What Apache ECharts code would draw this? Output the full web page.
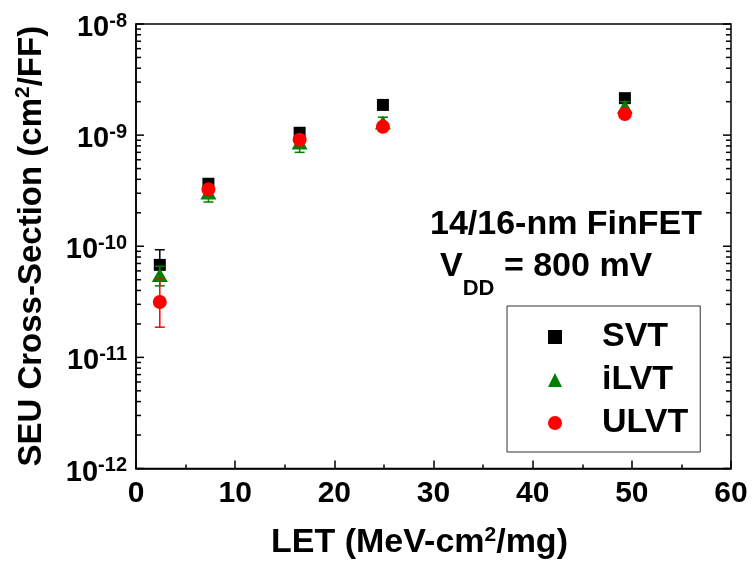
<!DOCTYPE html>
<html>
<head>
<meta charset="utf-8">
<script src="https://cdn.jsdelivr.net/npm/echarts@6/dist/echarts.min.js"></script>
<style>
  html, body { margin: 0; padding: 0; background: #fff; }
  #chart { width: 752px; height: 565px; }
</style>
</head>
<body>
<div id="chart"></div>
<script>
// LET values (MeV-cm2/mg)
const letValues = [2.4, 7.3, 16.5, 24.9, 49.3];

// SEU cross-section per flip-flop (cm2/FF)
const svt  = [6.8e-11, 3.65e-10, 1.05e-9, 1.87e-9, 2.15e-9];
const ilvt = [5.5e-11, 3.05e-10, 8.6e-10, 1.30e-9, 1.80e-9];
const ulvt = [3.15e-11, 3.25e-10, 9.1e-10, 1.19e-9, 1.55e-9];

// error bar bounds [low, high]
const svtErr  = [[5.2e-11, 9.3e-11], [3.4e-10, 3.9e-10], [1.0e-9, 1.1e-9], [1.8e-9, 1.95e-9], [2.05e-9, 2.25e-9]];
const ilvtErr = [[4.4e-11, 6.6e-11], [2.5e-10, 3.5e-10], [7.0e-10, 1.0e-9], [1.15e-9, 1.45e-9], [1.6e-9, 2.0e-9]];
const ulvtErr = [[1.87e-11, 5.05e-11], [3.0e-10, 3.5e-10], [8.6e-10, 9.6e-10], [1.13e-9, 1.25e-9], [1.47e-9, 1.63e-9]];

// series names and legend entries
const seriesNames = ['SVT', 'iLVT', 'ULVT'];

// y axis range (log) and x axis range
const yMin = 1e-12, yMax = 1e-8;
const xMin = 0, xMax = 60, xStep = 10;

const FONT = '"Liberation Sans", Arial, sans-serif';

// log-axis tick values: decades and 2..9 within each decade
const decadeTicks = [];
const minorTicks = [];
for (let e = -12; e <= -8; e++) {
  decadeTicks.push(Math.pow(10, e));
  if (e < -8) for (let m = 2; m <= 9; m++) minorTicks.push(m * Math.pow(10, e));
}

const pair = (xs, ys) => xs.map((x, i) => [x, ys[i]]);
const errData = (xs, errs) => xs.map((x, i) => [x, errs[i][0], errs[i][1]]);

function errorBarSeries(id, color, errs, z) {
  return {
    id: id,
    type: 'custom',
    z: z,
    silent: true,
    data: errData(letValues, errs),
    renderItem: function (params, api) {
      const lo = api.coord([api.value(0), api.value(1)]);
      const hi = api.coord([api.value(0), api.value(2)]);
      const cap = 5;
      const style = { stroke: color, lineWidth: 1.5 };
      return {
        type: 'group',
        children: [
          { type: 'line', shape: { x1: lo[0], y1: lo[1], x2: hi[0], y2: hi[1] }, style: style },
          { type: 'line', shape: { x1: lo[0] - cap, y1: lo[1], x2: lo[0] + cap, y2: lo[1] }, style: style },
          { type: 'line', shape: { x1: hi[0] - cap, y1: hi[1], x2: hi[0] + cap, y2: hi[1] }, style: style }
        ]
      };
    }
  };
}

// inward ticks on left and right frame edges for the log axis
function logTickSeries(values, len) {
  return {
    type: 'custom',
    silent: true,
    z: 1,
    clip: false,
    data: values.map(v => [xMin, v]),
    renderItem: function (params, api) {
      const v = api.value(1);
      const l = api.coord([xMin, v]);
      const r = api.coord([xMax, v]);
      const style = { stroke: '#000', lineWidth: 1.5 };
      return {
        type: 'group',
        children: [
          { type: 'line', shape: { x1: l[0], y1: l[1], x2: l[0] + len, y2: l[1] }, style: style },
          { type: 'line', shape: { x1: r[0] - len, y1: r[1], x2: r[0], y2: r[1] }, style: style }
        ]
      };
    }
  };
}

const chart = echarts.init(document.getElementById('chart'), null, { renderer: 'canvas' });

const option = {
  backgroundColor: '#fff',
  animation: false,
  textStyle: { fontFamily: FONT },
  grid: {
    left: 136, top: 24, right: 21, bottom: 90,
    show: true, borderColor: '#000', borderWidth: 1.5, backgroundColor: 'transparent'
  },
  xAxis: {
    type: 'value',
    min: xMin, max: xMax, interval: xStep,
    axisLine: { show: true, lineStyle: { color: '#000', width: 1.5 } },
    axisTick: { show: true, inside: true, length: 8, lineStyle: { color: '#000', width: 1.5 } },
    minorTick: { show: true, splitNumber: 2, length: 4, lineStyle: { color: '#000', width: 1.5 } },
    splitLine: { show: false },
    axisLabel: { color: '#000', fontSize: 30, fontWeight: 'bold', fontFamily: FONT, margin: 10 },
    name: '{t|LET (MeV-cm}{sup|2}{t|/mg)}',
    nameLocation: 'middle',
    nameGap: 56,
    nameTextStyle: {
      padding: [0, 28, 0, 0],
      rich: {
        t: { fontSize: 34, fontWeight: 'bold', fontFamily: FONT, color: '#000' },
        sup: { fontSize: 21, fontWeight: 'bold', fontFamily: FONT, color: '#000', verticalAlign: 'top', padding: [0, 0, 16, 0] }
      }
    }
  },
  yAxis: {
    type: 'log',
    logBase: 10,
    min: yMin, max: yMax,
    interval: 1,
    axisLine: { show: true, lineStyle: { color: '#000', width: 1.5 } },
    axisTick: { show: false },
    splitLine: { show: false },
    axisLabel: {
      margin: 9,
      padding: [8, 0, 0, 0],
      formatter: function (v) {
        return '{b|10}{s|' + Math.round(Math.log10(v)) + '}';
      },
      rich: {
        b: { fontSize: 29, fontWeight: 'bold', fontFamily: FONT, color: '#000' },
        s: { fontSize: 20, fontWeight: 'bold', fontFamily: FONT, color: '#000', verticalAlign: 'top', padding: [0, 0, 14, 0] }
      }
    },
    name: '{t|SEU Cross-Section (cm}{sup|2}{t|/FF)}',
    nameLocation: 'middle',
    nameGap: 86,
    nameTextStyle: {
      rich: {
        t: { fontSize: 33, fontWeight: 'bold', fontFamily: FONT, color: '#000' },
        sup: { fontSize: 21, fontWeight: 'bold', fontFamily: FONT, color: '#000', verticalAlign: 'top', padding: [0, 0, 16, 0] }
      }
    }
  },
  legend: {
    orient: 'vertical',
    left: 507, top: 306,
    padding: [14, 12, 12, 41],
    itemGap: 9,
    itemWidth: 14, itemHeight: 14,
    borderColor: '#333', borderWidth: 1,
    backgroundColor: '#fff',
    data: [
      { name: seriesNames[0], icon: 'rect' },
      { name: seriesNames[1], icon: 'triangle' },
      { name: seriesNames[2], icon: 'circle' }
    ],
    textStyle: {
      color: '#000', fontSize: 34, fontWeight: 'bold', fontFamily: FONT,
      lineHeight: 34, padding: [0, 0, 0, 35]
    }
  },
  graphic: [
    {
      type: 'text', left: 430, top: 208, z: 10,
      style: { text: '14/16-nm FinFET', fontSize: 34, fontWeight: 'bold', fontFamily: FONT, fill: '#000' }
    },
    {
      type: 'text', left: 440, top: 250, z: 10,
      style: {
        text: '{v|V}{d|DD}{v| = 800 mV}',
        rich: {
          v: { fontSize: 34, fontWeight: 'bold', fontFamily: FONT, fill: '#000', verticalAlign: 'top' },
          d: { fontSize: 22, fontWeight: 'bold', fontFamily: FONT, fill: '#000', verticalAlign: 'top', padding: [28, 0, 0, 0] }
        }
      }
    }
  ],
  series: [
    logTickSeries(decadeTicks, 8),
    logTickSeries(minorTicks, 5),
    errorBarSeries('errSVT', '#000', svtErr, 3),
    errorBarSeries('errILVT', '#008000', ilvtErr, 5),
    errorBarSeries('errULVT', '#ff0000', ulvtErr, 7),
    {
      name: seriesNames[0], type: 'scatter', z: 4,
      symbol: 'rect', symbolSize: 12,
      itemStyle: { color: '#000', opacity: 1 },
      data: pair(letValues, svt)
    },
    {
      name: seriesNames[1], type: 'scatter', z: 6,
      symbol: 'triangle', symbolSize: [16, 14],
      itemStyle: { color: '#008000', opacity: 1 },
      data: pair(letValues, ilvt)
    },
    {
      name: seriesNames[2], type: 'scatter', z: 8,
      symbol: 'circle', symbolSize: 14,
      itemStyle: { color: '#ff0000', opacity: 1 },
      data: pair(letValues, ulvt)
    }
  ]
};

chart.setOption(option);
</script>
</body>
</html>
